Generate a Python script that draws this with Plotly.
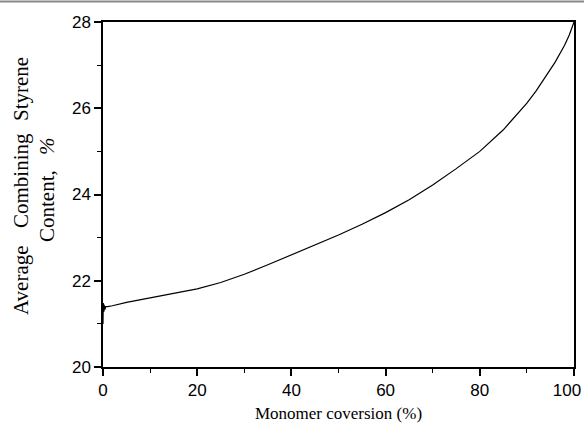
import plotly.graph_objects as go

# Monomer conversion (%) and average combining styrene content (%)
conversion = [0, 0.05, 0.1, 0.15, 0.2, 0.3, 0.4, 0.6, 1, 2, 5, 10, 15, 20, 25, 30, 35,
              40, 45, 50, 55, 60, 65, 70, 75, 80, 85, 88, 90, 92, 94, 96, 98, 99, 100]
styrene = [21.0, 21.48, 21.15, 21.45, 21.28, 21.43, 21.33, 21.40, 21.40, 21.42, 21.50,
           21.60, 21.70, 21.81, 21.96, 22.15, 22.37, 22.60, 22.82, 23.06, 23.31, 23.58,
           23.88, 24.22, 24.60, 25.00, 25.50, 25.86, 26.12, 26.41, 26.73, 27.07, 27.46,
           27.70, 28.0]

x_ticks = [0, 20, 40, 60, 80, 100]
x_ticktext = ["0", "20", "40", "60", "80", "100\u00a0\u00a0\u00a0"]
y_ticks = [20, 22, 24, 26, 28]

fig = go.Figure()
fig.add_trace(go.Scatter(x=conversion, y=styrene, mode="lines",
                         line=dict(color="black", width=1.2), showlegend=False))

axis_common = dict(showline=True, linecolor="black", linewidth=1.5, mirror=True,
                   ticks="outside", ticklen=7, tickwidth=1.5, tickcolor="black",
                   showgrid=False, zeroline=False, ticklabeloverflow="allow",
                   automargin=False,
                   tickfont=dict(family="Liberation Sans, Arial", size=17, color="black"))

fig.update_xaxes(range=[0, 100], tickvals=x_ticks, ticktext=x_ticktext,
                 minor=dict(dtick=10, ticks="outside", ticklen=4, tickwidth=1.2, tickcolor="black"),
                 title=dict(text="Monomer coversion (%)",
                            font=dict(family="Liberation Serif, Times New Roman", size=17, color="black"),
                            standoff=8),
                 **axis_common)
fig.update_yaxes(range=[20, 28], tickvals=y_ticks,
                 minor=dict(dtick=1, ticks="outside", ticklen=4, tickwidth=1.2, tickcolor="black"),
                 **axis_common)

serif = dict(family="Liberation Serif, Times New Roman", size=21, color="black")
# y-axis title words (justified two-line title)
words = [("Average", 21, 280), ("Combining", 21, 181), ("Styrene", 21, 89),
         ("Content,", 47, 206), ("<i>%</i>", 47, 146)]
for txt, px, py in words:
    fig.add_annotation(text=txt, textangle=-90, xref="paper", yref="paper",
                       x=(px - 103) / 471, y=(367 - py) / 345,
                       xanchor="center", yanchor="middle", showarrow=False, font=serif)

# grey frame line at top of the picture
fig.add_shape(type="line", xref="paper", yref="paper", x0=-103 / 471, x1=1 + 10 / 471,
              y0=1 + 20.5 / 345, y1=1 + 20.5 / 345, line=dict(color="#888888", width=2))

fig.update_layout(width=584, height=428, margin=dict(l=103, r=10, t=22, b=61, autoexpand=False),
                  plot_bgcolor="white", paper_bgcolor="white")

fig.write_html("out.html", config={"displayModeBar": False},
               post_script="document.body.style.margin='0';document.body.style.overflow='hidden';")
